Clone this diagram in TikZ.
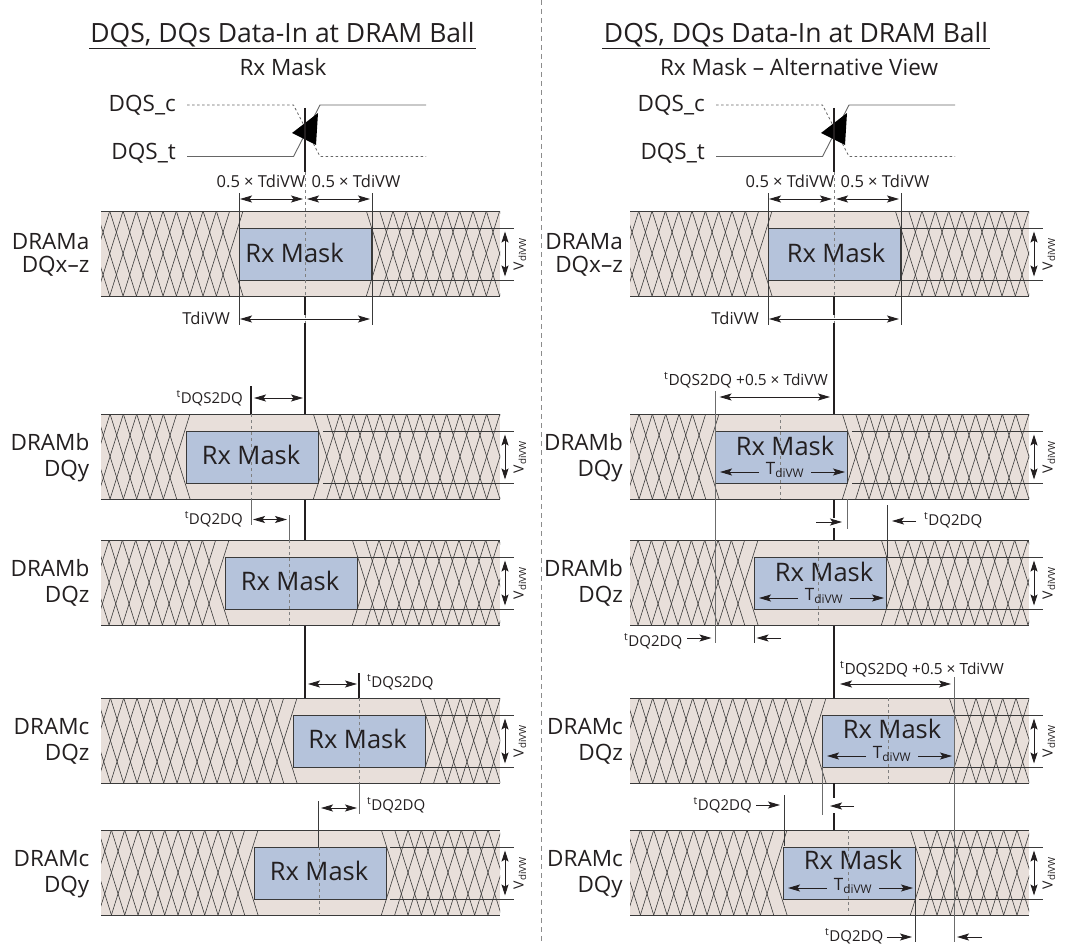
\documentclass[tikz,border=0pt]{standalone}
\usepackage{fontspec}
\setmainfont{Open Sans}
\usetikzlibrary{arrows.meta}
\definecolor{bandc}{HTML}{E8DFDA}
\definecolor{maskc}{HTML}{B5C3DB}
\definecolor{ink}{HTML}{231F20}
\definecolor{lineg}{HTML}{3A3A3A}
\newcount\cc
\newcommand\conn[5][]{\global\advance\cc by 1
  \coordinate (c\the\cc a) at (#2,#3);
  \coordinate (c\the\cc b) at (#4,#5);
  \draw[#1] (c\the\cc a) -- (c\the\cc b);}
% name, band left, mask left, band top, start of the mask-level lines, end of them
\newcommand\band[6]{%
  \node[bandbox,anchor=north west] (#1band) at (#2,#4) {};
  \begin{scope}
    \clip (#2,#4) rectangle ++(399,85);
    \foreach \k in {0,...,30}{
      \pgfmathsetmacro\cl{#3-9.3-\k*13.33}
      \pgfmathsetmacro\cr{#3+140.7+\k*13.33}
      \draw[hatch] (\cl+13.33,#4) -- (\cl-13.33,#4+85);
      \draw[hatch] (\cl-13.33,#4) -- (\cl+13.33,#4+85);
      \draw[hatch] (\cr+13.33,#4) -- (\cr-13.33,#4+85);
      \draw[hatch] (\cr-13.33,#4) -- (\cr+13.33,#4+85);
    }
  \end{scope}
  \draw[edge] (#1band.north west) -- (#1band.north east);
  \draw[edge] (#1band.south west) -- (#1band.south east);
  \node[maskbox,anchor=north west] (#1mask) at (#3,#4+17) {};
  \conn[vline]{#5}{#4+17}{#6}{#4+17}
  \conn[vline]{#5}{#4+69}{#6}{#4+69}
  \pgfmathsetmacro\va{#6-9}
  \conn[dimv]{\va}{#4+20.5}{\va}{#4+65.5}
  \node[vtxt] (#1v) at (\va+15,#4+43) {V\textsubscript{diVW}};
}
\tikzset{
  bandbox/.style={fill=bandc,draw=none,inner sep=0pt,minimum width=399pt,minimum height=85pt},
  maskbox/.style={fill=maskc,draw=lineg,line width=1pt,inner sep=0pt,minimum width=132pt,minimum height=52pt},
  hatch/.style={draw=lineg,line width=.6pt},
  edge/.style={draw=lineg,line width=1pt},
  vline/.style={draw=lineg,line width=.7pt},
  gline/.style={draw=gray!85!black,line width=.9pt},
  thick line/.style={draw=ink,line width=2pt},
  cdash/.style={draw=gray,line width=.7pt,dash pattern=on 3pt off 3pt},
  dim/.style={draw=ink,line width=.9pt,{Stealth[length=12pt,width=7pt,inset=2.5pt]}-{Stealth[length=12pt,width=7pt,inset=2.5pt]}},
  dimv/.style={draw=ink,line width=.9pt,{Stealth[length=11pt,width=7pt,inset=2pt]}-{Stealth[length=11pt,width=7pt,inset=2pt]}},
  dimr/.style={draw=ink,line width=.9pt,-{Stealth[length=12pt,width=7pt,inset=2.5pt]}},
  wsolid/.style={draw=gray!80!black,line width=.9pt},
  wdash/.style={draw=gray!80!black,line width=.8pt,dash pattern=on 2.5pt off 2.5pt},
  txt/.style={inner sep=0pt,text=ink},
  ttl/.style={txt,anchor=base,font=\fontsize{26.5}{26.5}\selectfont},
  subt/.style={txt,anchor=base,font=\fontsize{22.5}{22.5}\selectfont},
  lab/.style={txt,anchor=base east,font=\fontsize{22.5}{22.5}\selectfont},
  mk/.style={txt,anchor=base,font=\fontsize{25.5}{25.5}\selectfont},
  sm/.style={txt,anchor=base,font=\fontsize{16.5}{16.5}\selectfont},
  lg/.style={txt,anchor=base west,font=\fontsize{15.4}{15.4}\selectfont},
  dq/.style={txt,anchor=base,font=\fontsize{15}{15}\selectfont},
  vtxt/.style={txt,rotate=90,font=\fontsize{14}{14}\selectfont},
  tw/.style={txt,anchor=base,font=\fontsize{17}{17}\selectfont},
}
\newcommand\tq[1]{\textsuperscript{t}#1}
\begin{document}
\begin{tikzpicture}[x=1pt,y=-1pt]
\useasboundingbox (0,0) rectangle (1068,947);
\fill[white] (0,0) rectangle (1068,947);
% divider
\conn[draw=gray!90,line width=.8pt,dash pattern=on 5pt off 4pt]{541.5}{0}{541.5}{942}

% ===== bands =====
\band{la}{101}{239}{211}{372}{514}
\band{lb}{101}{186}{414}{323}{514}
\band{lz}{101}{225}{540}{357}{514}
\band{lc}{101}{293}{698}{425}{514}
\band{ly}{101}{254}{830}{390}{514}
\band{ra}{630}{768}{211}{900}{1043}
\band{rb}{630}{715}{414}{852}{1043}
\band{rz}{630}{754}{540}{886}{1043}
\band{rc}{630}{822}{698}{954}{1043}
\band{ry}{630}{783}{830}{919}{1043}

% ===== titles =====
\node[ttl] (t1) at (282.5,43) {DQS, DQs Data-In at DRAM Ball};
\node[ttl] (t2) at (796,43) {DQS, DQs Data-In at DRAM Ball};
\conn[draw=ink,line width=1.3pt]{89}{48.3}{476}{48.3}
\conn[draw=ink,line width=1.3pt]{602}{48.3}{990}{48.3}
\node[subt] (s1) at (283,76) {Rx Mask};
\node[subt] (s2) at (799,76) {Rx Mask – Alternative View};

% ===== strobe, both panels =====
\foreach \dx/\nm in {0/l,529/r}{
  \node[lab] (\nm qc) at (176+\dx,112) {DQS\_c};
  \node[lab] (\nm qt) at (176+\dx,159) {DQS\_t};
  \coordinate (\nm a) at (187+\dx,105);
  \coordinate (\nm b) at (293.5+\dx,105);
  \coordinate (\nm c) at (320+\dx,156.5);
  \coordinate (\nm d) at (426+\dx,156.5);
  \coordinate (\nm e) at (187+\dx,156.5);
  \coordinate (\nm f) at (293.5+\dx,156.5);
  \coordinate (\nm g) at (320+\dx,105);
  \coordinate (\nm h) at (426+\dx,105);
  \draw[wdash] (\nm a) -- (\nm b) -- (\nm c) -- (\nm d);
  \draw[wsolid] (\nm e) -- (\nm f) -- (\nm g) -- (\nm h);
  \fill[black] (292+\dx,133) -- (318+\dx,113) -- (316+\dx,145) -- cycle;
  % centre line
  \coordinate (\nm p) at (305+\dx,108);
  \coordinate (\nm q) at (305+\dx,172);
  \draw[thick line] (\nm p) -- (\nm q);
  \coordinate (\nm r) at (305+\dx,297);
  \draw[cdash] (\nm q) -- (\nm r);
  \coordinate (\nm s) at (305+\dx,315);
  \draw[thick line] (\nm r) -- (\nm s);
  \coordinate (\nm t) at (305+\dx,323);
  \coordinate (\nm u) at (305+\dx,414);
  \draw[cdash] (\nm s) -- (\nm t);
  \draw[thick line] (\nm t) -- (\nm u);
  \coordinate (\nm v) at (305+\dx,626);
  \coordinate (\nm w) at (305+\dx,698);
  \draw[thick line] (\nm v) -- (\nm w);
  % half-window dimensions and window dimension
  \node[sm] (\nm h1) at (261+\dx,187) {0.5 × TdiVW};
  \node[sm] (\nm h2) at (356+\dx,187) {0.5 × TdiVW};
  \coordinate (\nm i) at (239+\dx,193);
  \coordinate (\nm j) at (239+\dx,325);
  \coordinate (\nm k) at (372+\dx,193);
  \coordinate (\nm l) at (372+\dx,325);
  \draw[vline] (\nm i) -- (\nm j);
  \draw[vline] (\nm k) -- (\nm l);
  \coordinate (\nm A) at (240+\dx,199);
  \coordinate (\nm B) at (303+\dx,199);
  \coordinate (\nm C) at (307+\dx,199);
  \coordinate (\nm D) at (370+\dx,199);
  \draw[dim] (\nm A) -- (\nm B);
  \draw[dim] (\nm C) -- (\nm D);
  \coordinate (\nm E) at (240+\dx,319);
  \coordinate (\nm F) at (370+\dx,319);
  \draw[dim] (\nm E) -- (\nm F);
  \node[txt,anchor=base east,font=\fontsize{16.5}{16.5}\selectfont] (\nm tw) at (230+\dx,324) {TdiVW};
}
% ===== band labels =====
\node[lab] (l1) at (89.5,249) {DRAMa};  \node[lab] (l2) at (89.5,272) {DQx–z};
\node[lab] (l3) at (89.5,450) {DRAMb};  \node[lab] (l4) at (89.5,476) {DQy};
\node[lab] (l5) at (89.5,576) {DRAMb};  \node[lab] (l6) at (89.5,602) {DQz};
\node[lab] (l7) at (89.5,734) {DRAMc};  \node[lab] (l8) at (89.5,760) {DQz};
\node[lab] (l9) at (89.5,866) {DRAMc};  \node[lab] (l10) at (89.5,892) {DQy};
\node[lab] (r1) at (623,249) {DRAMa};  \node[lab] (r2) at (623,272) {DQx–z};
\node[lab] (r3) at (623,450) {DRAMb};  \node[lab] (r4) at (623,476) {DQy};
\node[lab] (r5) at (623,576) {DRAMb};  \node[lab] (r6) at (623,602) {DQz};
\node[lab] (r7) at (623,734) {DRAMc};  \node[lab] (r8) at (623,760) {DQz};
\node[lab] (r9) at (623,866) {DRAMc};  \node[lab] (r10) at (623,892) {DQy};

% ===== left panel =====
\conn[thick line]{305}{500}{305}{540}
\conn[thick line]{251}{386}{251}{414}
\conn[cdash]{251}{414}{251}{499}
\conn[dim]{254}{398}{303}{398}
\node[dq,anchor=base east] (ld1) at (243,403) {\tq{DQS2DQ}};
\conn[gline]{251}{499}{251}{525}
\conn[dim]{253}{519.5}{287}{519.5}
\node[dq,anchor=base east] (ld2) at (243,524) {\tq{DQ2DQ}};
\conn[gline]{289}{515}{289}{540}
\conn[cdash]{289}{540}{289}{625}
\conn[thick line]{359}{673}{359}{698}
\conn[cdash]{359}{698}{359}{783}
\conn[dim]{308}{684}{357}{684}
\node[dq,anchor=base west] (ld3) at (367,687) {\tq{DQS2DQ}};
\conn[gline]{359}{783}{359}{814}
\conn[dim]{321}{808}{357}{808}
\node[dq,anchor=base west] (ld4) at (367,810) {\tq{DQ2DQ}};
\conn[vline]{318}{801}{318}{847}
\conn[cdash]{319}{847}{319}{914}
\node[mk] (m1) at (294.5,262) {Rx Mask};
\node[mk] (m2) at (251,464) {Rx Mask};
\node[mk] (m3) at (290,590) {Rx Mask};
\node[mk] (m4) at (357.5,748) {Rx Mask};
\node[mk] (m5) at (319,880) {Rx Mask};

% ===== right panel =====
\node[mk] (n1) at (836,262) {Rx Mask};
\node[mk] (n2) at (785,455) {Rx Mask};
\node[mk] (n3) at (824,581) {Rx Mask};
\node[mk] (n4) at (892,738) {Rx Mask};
\node[mk] (n5) at (853,869) {Rx Mask};
\conn[thick line]{834}{500}{834}{518}
\conn[thick line]{834}{528}{834}{540}
\conn[thick line]{834}{783}{834}{798}
\conn[thick line]{834}{813}{834}{830}
\conn[cdash]{780}{414}{780}{499}
\conn[cdash]{818}{540}{818}{625}
\conn[cdash]{888}{698}{888}{783}
\conn[cdash]{848}{830}{848}{914}
% window arrows inside the masks
\foreach \ml/\tp/\id in {715/414/a,754/540/b,822/698/c,783/830/d}{
  \node[tw] (tt\id) at (\ml+70,\tp+60) {T\textsubscript{diVW}};
  \coordinate (ti\id) at (\ml+44,\tp+58);
  \coordinate (tj\id) at (\ml+5,\tp+58);
  \coordinate (tk\id) at (\ml+96,\tp+58);
  \coordinate (tl\id) at (\ml+130,\tp+58);
  \draw[dimr] (ti\id) -- (tj\id);
  \draw[dimr] (tk\id) -- (tl\id);
}
% DRAMb DQy
\conn[gline]{715}{391}{715}{643}
\conn[dim]{719.5}{397}{830}{397}
\node[lg] (rd1) at (664,385) {\tq{DQS2DQ} +0.5 × TdiVW};
\conn[gline]{847}{499}{847}{529}
\conn[dimr]{816}{522}{842}{522}
\conn[vline]{887}{505}{887}{557}
\conn[dimr]{916}{521}{892}{521}
\node[dq,anchor=base west] (rd2) at (924,525) {\tq{DQ2DQ}};
% DRAMb DQz
\conn[vline]{754}{625}{754}{643}
\node[dq,anchor=base west] (rd3) at (624,646) {\tq{DQ2DQ}};
\conn[dimr]{687}{638}{711.5}{638}
\conn[dimr]{781}{638}{756.5}{638}
% DRAMc DQz
\node[lg] (rd4) at (840,674) {\tq{DQS2DQ} +0.5 × TdiVW};
\conn[dim]{840}{684}{951}{684}
\conn[gline]{954}{677}{954}{942}
\conn[gline]{822}{767}{822}{815}
\conn[dimr]{854}{806}{830}{806}
% DRAMc DQy
\node[dq,anchor=base west] (rd5) at (693.5,810) {\tq{DQ2DQ}};
\conn[dimr]{756}{805}{780}{805}
\conn[vline]{784}{795}{784}{846}
\conn[vline]{915}{898}{915}{942}
\node[dq,anchor=base west] (rd6) at (825,941) {\tq{DQ2DQ}};
\conn[dimr]{886.5}{937}{912}{937}
\conn[dimr]{982}{937}{957}{937}
\end{tikzpicture}
\end{document}
